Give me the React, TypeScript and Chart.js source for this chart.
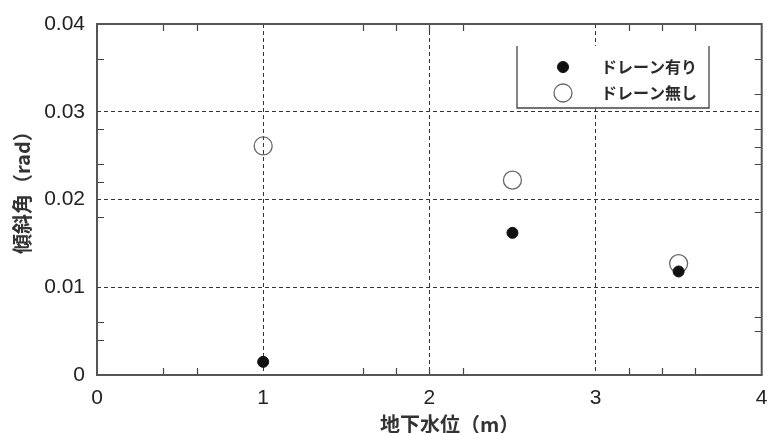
import React, { useEffect, useRef } from "react";
import { Chart, registerables } from "chart.js";

Chart.register(...registerables);

const seriesLabels = ["ドレーン有り", "ドレーン無し"];
const xWithDrain = [1, 2.5, 3.5];
const yWithDrain = [0.0015, 0.0162, 0.0118];
const xNoDrain = [1, 2.5, 3.5];
const yNoDrain = [0.0261, 0.0222, 0.0127];
const xTickValues = [0, 1, 2, 3, 4];
const yTickValues = [0, 0.01, 0.02, 0.03, 0.04];
const innerTicksX = [0.4, 0.6, 1.6, 1.8, 2, 2.2, 3.2, 3.4, 3.6];
const innerTicksYLeft = [0.004, 0.006, 0.018, 0.022, 0.024, 0.028, 0.036];
const innerTicksYRight = [0.005, 0.0066, 0.0186, 0.024, 0.026, 0.028, 0.032, 0.036];
const xTitle = "地下水位（m）";
const yTitle = "傾斜角（rad）";

const JP = "'Noto Sans CJK JP', 'Noto Sans', sans-serif";
const NUM = "'Liberation Sans', Arial, sans-serif";

const framePlugin = {
  id: "framePlugin",
  afterDatasetsDraw(chart: any) {
    const { ctx, chartArea } = chart;
    const { left, right, top, bottom } = chartArea;
    const xs = chart.scales.x;
    const ys = chart.scales.y;
    ctx.save();
    ctx.strokeStyle = "#444";
    ctx.lineWidth = 1.2;
    ctx.setLineDash([]);
    ctx.beginPath();
    innerTicksX.forEach((v) => {
      const px = Math.round(xs.getPixelForValue(v)) + 0.5;
      ctx.moveTo(px, bottom);
      ctx.lineTo(px, bottom - 7);
      ctx.moveTo(px, top);
      ctx.lineTo(px, top + 7);
    });
    innerTicksYLeft.forEach((v) => {
      const py = Math.round(ys.getPixelForValue(v)) + 0.5;
      ctx.moveTo(left, py);
      ctx.lineTo(left + 7, py);
    });
    innerTicksYRight.forEach((v) => {
      const py = Math.round(ys.getPixelForValue(v)) + 0.5;
      ctx.moveTo(right, py);
      ctx.lineTo(right - 7, py);
    });
    ctx.stroke();
    ctx.strokeStyle = "#555";
    ctx.lineWidth = 2;
    ctx.strokeRect(left, top, right - left, bottom - top);

    // legend
    const lx = 517, ly = 46, lw = 192, lh = 62;
    ctx.fillStyle = "#fff";
    ctx.fillRect(lx, ly, lw, lh);
    ctx.strokeStyle = "#444";
    ctx.lineWidth = 1.3;
    ctx.beginPath();
    ctx.moveTo(lx, ly);
    ctx.lineTo(lx, ly + lh);
    ctx.lineTo(lx + lw, ly + lh);
    ctx.lineTo(lx + lw, ly);
    ctx.stroke();
    const rows = [67, 93];
    chart.data.datasets.forEach((ds: any, i: number) => {
      const cy = rows[i];
      ctx.beginPath();
      ctx.arc(563, cy, ds.pointRadius, 0, Math.PI * 2);
      ctx.fillStyle = ds.pointBackgroundColor;
      ctx.fill();
      ctx.lineWidth = ds.pointBorderWidth;
      ctx.strokeStyle = ds.pointBorderColor;
      ctx.stroke();
      ctx.fillStyle = "#2a2a2a";
      ctx.font = `bold 16px ${JP}`;
      ctx.textAlign = "left";
      ctx.textBaseline = "middle";
      ctx.fillText(ds.label, 601, cy);
    });

    // axis titles
    ctx.fillStyle = "#333";
    ctx.font = `bold 20px ${JP}`;
    ctx.textBaseline = "middle";
    ctx.textAlign = "left";
    ctx.fillText(xTitle, 380, 424);
    ctx.translate(22, 254);
    ctx.rotate(-Math.PI / 2);
    ctx.fillText(yTitle, 0, 0);
    ctx.restore();
  },
};

export default function App() {
  const ref = useRef<HTMLCanvasElement>(null);
  useEffect(() => {
    document.body.style.margin = "0";
    const toPts = (xs: number[], ys: number[]) => xs.map((x, i) => ({ x, y: ys[i] }));
    const chart = new Chart(ref.current!, {
      type: "scatter",
      data: {
        datasets: [
          {
            label: seriesLabels[0],
            data: toPts(xWithDrain, yWithDrain),
            pointRadius: 5.5,
            pointBackgroundColor: "#111",
            pointBorderColor: "#111",
            pointBorderWidth: 1,
          },
          {
            label: seriesLabels[1],
            data: toPts(xNoDrain, yNoDrain),
            pointRadius: 9,
            pointBackgroundColor: "rgba(255,255,255,0)",
            pointBorderColor: "#666",
            pointBorderWidth: 1.3,
          },
        ],
      },
      options: {
        animation: false,
        responsive: false,
        devicePixelRatio: 1,
        layout: { padding: { left: 0, right: 3, top: 24, bottom: 0 } },
        plugins: { legend: { display: false }, tooltip: { enabled: false } },
        scales: {
          x: {
            type: "linear",
            min: 0,
            max: 4,
            afterBuildTicks: (s: any) => {
              s.ticks = xTickValues.map((v) => ({ value: v }));
            },
            afterFit: (s: any) => {
              s.height = 58;
              s.paddingLeft = 0;
              s.paddingRight = 0;
            },
            grid: {
              drawTicks: false,
              color: (c: any) => (c.tick.value === 0 || c.tick.value === 4 ? "rgba(0,0,0,0)" : "#333"),
              lineWidth: 1,
            },
            border: { display: false, dash: [4, 3] },
            ticks: {
              padding: 11,
              color: "#222",
              font: { family: NUM, size: 21 },
              maxRotation: 0,
            },
            title: { display: false },
          },
          y: {
            type: "linear",
            min: 0,
            max: 0.04,
            afterBuildTicks: (s: any) => {
              s.ticks = yTickValues.map((v) => ({ value: v }));
            },
            afterFit: (s: any) => {
              s.width = 97;
              s.paddingTop = 0;
              s.paddingBottom = 0;
            },
            grid: {
              drawTicks: false,
              color: (c: any) => (c.tick.value === 0 || c.tick.value === 0.04 ? "rgba(0,0,0,0)" : "#333"),
              lineWidth: 1,
            },
            border: { display: false, dash: [4, 3] },
            ticks: {
              padding: 12,
              color: "#222",
              font: { family: NUM, size: 21 },
              callback: (v: any) => String(Number(v.toFixed(2))),
            },
            title: { display: false },
          },
        },
      },
      plugins: [framePlugin],
    });
    return () => chart.destroy();
  }, []);
  return (
    <div style={{ width: 772, height: 433, background: "#fff" }}>
      <canvas ref={ref} width={772} height={433} style={{ width: 772, height: 433, display: "block" }} />
    </div>
  );
}
